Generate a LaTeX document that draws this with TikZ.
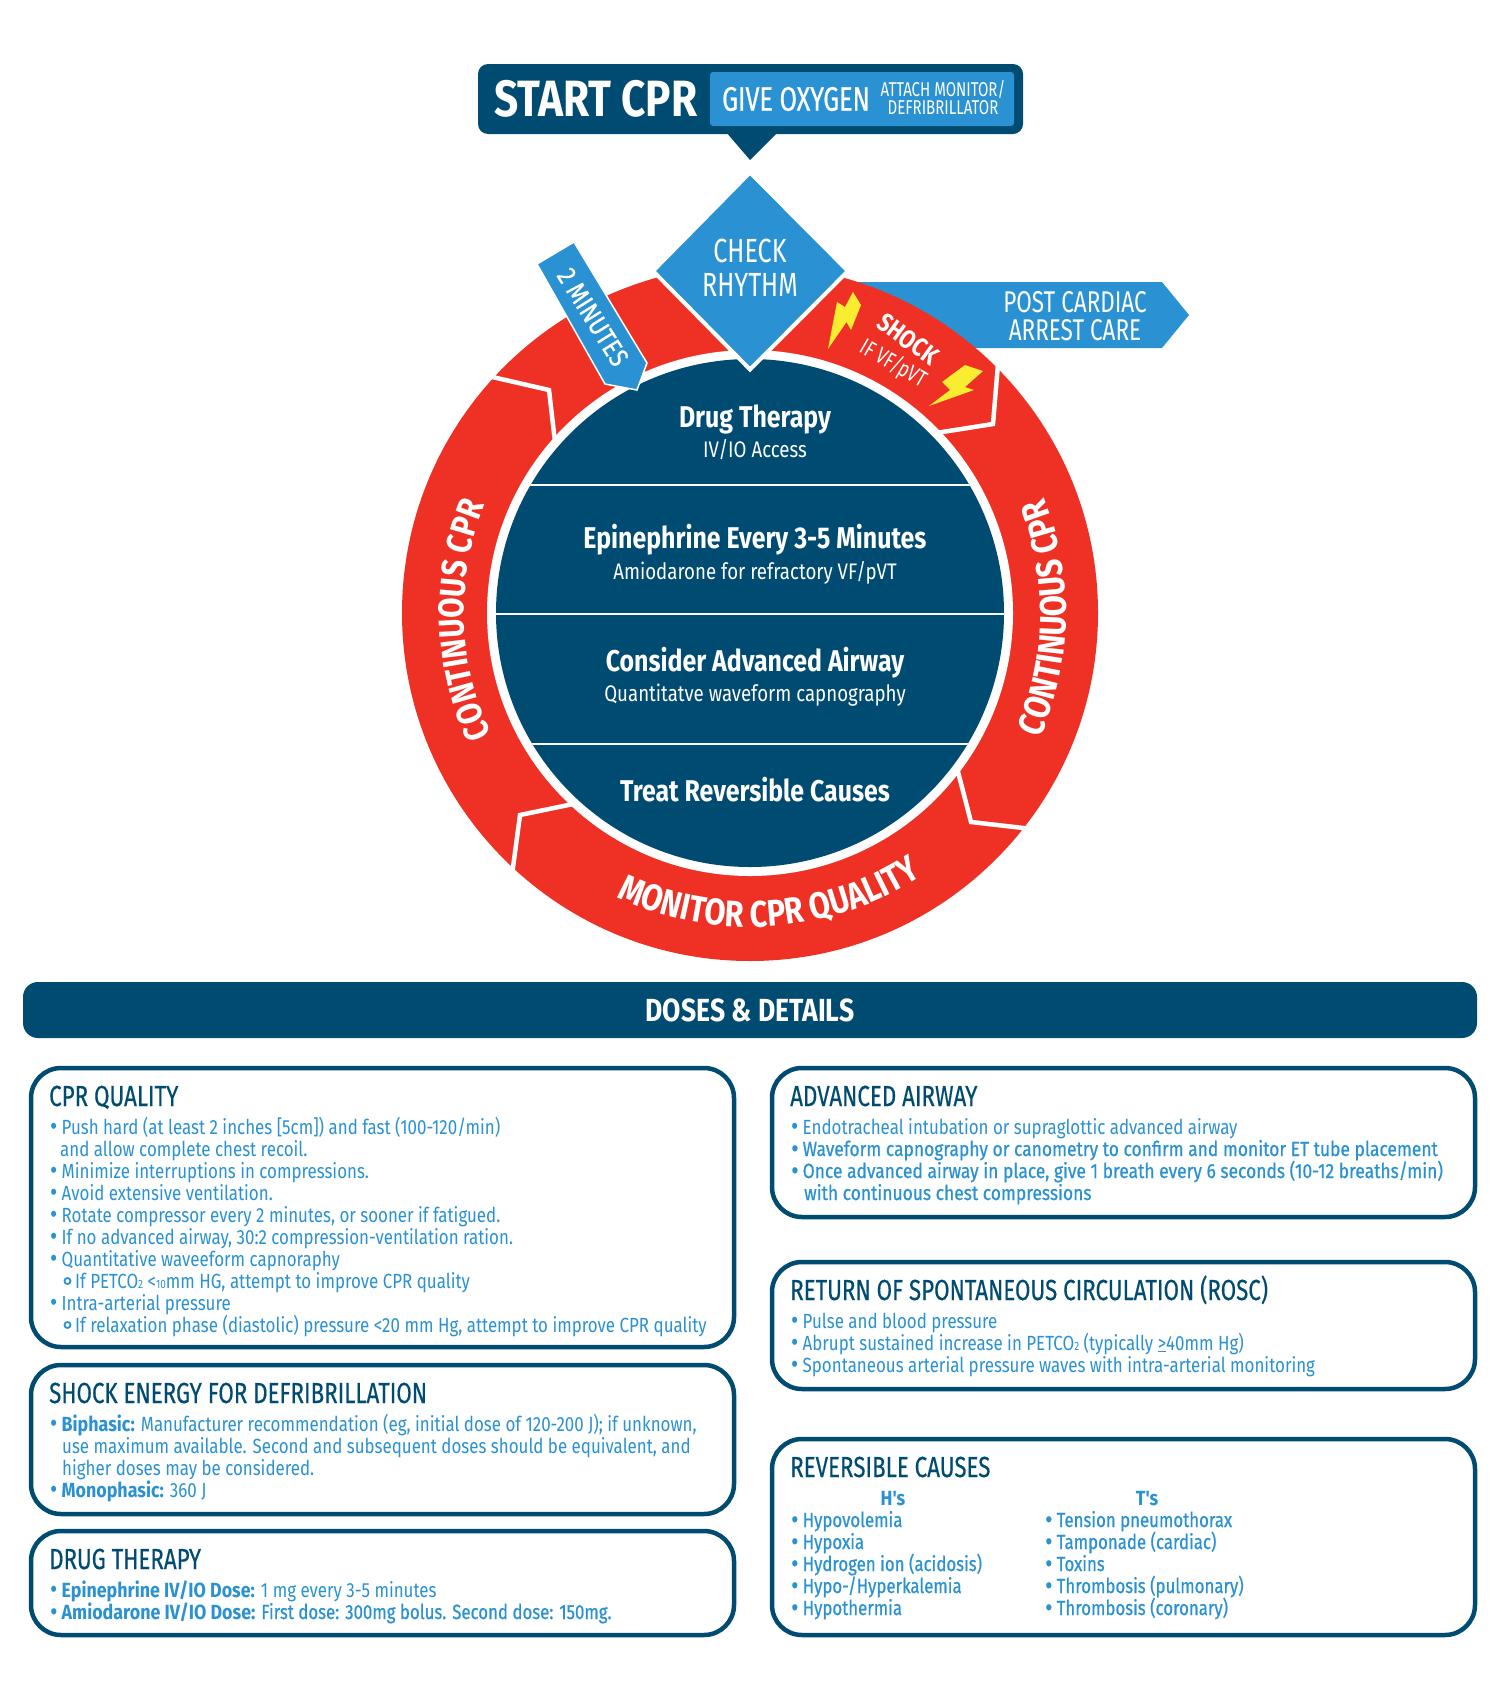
\documentclass[tikz,border=0pt]{standalone}
\usepackage{fontspec}
\usetikzlibrary{decorations.text}
\newfontfamily\din[FakeStretch=0.75]{Fira Sans}
\newfontfamily\dinw[FakeStretch=0.825,BoldFeatures={FakeStretch=0.87}]{Fira Sans}
\newfontfamily\dinm[FakeStretch=0.85,FakeBold=0.6]{Fira Sans}
\newfontfamily\dinl[FakeStretch=0.82,FakeBold=0.6]{Fira Sans}
\newfontfamily\dinh[FakeStretch=0.74,FakeBold=0.6]{Fira Sans}
\newfontfamily\dint[FakeStretch=0.77,FakeBold=0.4]{Fira Sans}
\newfontfamily\dinb[FakeStretch=0.83]{Fira Sans}
\definecolor{navy}{HTML}{004B71}
\definecolor{sky}{HTML}{2A92D2}
\definecolor{cprred}{HTML}{EE3124}
\definecolor{bolt}{HTML}{F9EC31}
\newcommand{\fsz}[1]{\fontsize{#1}{#1}\selectfont}
\newcommand{\bul}{\makebox[11.5pt][l]{\raisebox{-1.5pt}{\fsz{27}•}}}
\newcommand{\sml}[1]{{\fontsize{12}{12}\selectfont #1}}
\tikzset{
 x=1pt,y=1pt,
 ctext/.style={inner sep=0pt,align=center,text=white,font=\din},
 bodytxt/.style={inner sep=0pt,anchor=base west,text=sky,font=\dinw\fsz{20.5}},
 medtxt/.style={bodytxt,font=\dinm\fsz{20.5}},
 listtxt/.style={bodytxt,font=\dinl\fsz{20.5}},
 headtxt/.style={inner sep=0pt,anchor=base west,text=navy,font=\dint\fsz{29}},
 infobox/.style={draw=navy,line width=4.5pt,fill=white,rounded corners=30pt},
 divider/.style={draw=white,line width=4.5pt,line join=miter},
}
\newcommand{\tl}[5][bodytxt]{\node[#1] (#2) at (#3,-#4) {#5};}
\begin{document}
\begin{tikzpicture}
\useasboundingbox (0,0) rectangle (1500,-1700);
\fill[white] (0,0) rectangle (1500,-1700);
% post cardiac arrow behind ring
\fill[sky] (820,-282) -- (1162,-282) -- (1189,-315) -- (1162,-348) -- (820,-348) -- cycle;
% ring
\coordinate (ctr) at (750,-613);
\fill[cprred] (ctr) circle[radius=348];
\fill[white] (ctr) circle[radius=263];
\fill[navy] (ctr) circle[radius=254];
% disc separators
\begin{scope}
\clip (ctr) circle[radius=254];
\draw[white,line width=2pt] (480,-485) -- (1020,-485) (480,-614) -- (1020,-614) (480,-744) -- (1020,-744);
\end{scope}
% dividers
\draw[divider] (488,-376) -- (549,-390) -- (555,-442);
\draw[divider] (998,-364) -- (993,-424) -- (936,-433);
\draw[divider] (957,-768) -- (971,-822) -- (1032,-829);
\draw[divider] (578,-803) -- (520,-815) -- (512,-875);
% ring labels
\path[decorate,decoration={text along path,text align=center,
  text={|\dinb\bfseries\fsz{35.5}\color{white}|CONTINUOUS CPR}}]
  (ctr) ++(221.5:286) arc[start angle=221.5,end angle=141.5,radius=286];
\path[decorate,decoration={text along path,text align=center,
  text={|\dinb\bfseries\fsz{37}\color{white}|CONTINUOUS CPR}}]
  (ctr) ++(-41:316) arc[start angle=-41,end angle=39,radius=316];
\path[decorate,decoration={text along path,text align=center,
  text={|\dinb\bfseries\fsz{37}\color{white}|MONITOR CPR QUALITY}}]
  (ctr) ++(229:314) arc[start angle=229,end angle=319,radius=314];
% bolts
\fill[bolt] (853,-292) -- (861,-305) -- (851,-330) -- (846.5,-322) -- (828,-349) -- (837,-302) -- (845,-307) -- cycle;
\fill[bolt] (965,-365) -- (983,-371) -- (965,-387) -- (974,-390) -- (929,-406) -- (950,-390) -- (942,-382) -- cycle;
\node[ctext,font=\dinb\bfseries\fsz{26},rotate=-36] (shock) at (908,-339) {SHOCK};
\node[ctext,font=\din\fsz{23},rotate=-30] (ifvf) at (893,-364) {IF VF/pVT};
% 2 minutes tag
\draw[fill=sky,draw=white,line width=1.5pt,line join=miter] (574,-242) -- (647,-363) -- (637,-390) -- (605,-384) -- (537,-264) -- cycle;
\node[ctext,font=\dinm\fsz{27},rotate=-58] (twomin) at (593,-317) {2 MINUTES};
% diamond
\draw[fill=sky,draw=white,line width=4pt,line join=miter] (750,-172.5) -- (848,-271) -- (750,-369.5) -- (653,-271) -- cycle;
\node[ctext,font=\din\fsz{33.5}] (check) at (750,-251) {CHECK};
\node[ctext,font=\din\fsz{33.5}] (rhythm) at (750,-285) {RHYTHM};
\node[ctext,font=\din\fsz{30}] (post1) at (1075,-302) {POST CARDIAC};
\node[ctext,font=\din\fsz{30}] (post2) at (1075,-330) {ARREST CARE};
% header
\fill[navy,rounded corners=10pt] (478,-64) rectangle (1023,-134);
\fill[navy] (726,-132) -- (778,-132) -- (750,-160) -- cycle;
\fill[sky,rounded corners=3pt] (710,-72) rectangle (1014,-126);
\node[ctext,font=\dinb\bfseries\fsz{51}] (start) at (596,-99) {START CPR};
\node[ctext,font=\dinh\fsz{34}] (oxygen) at (796,-99) {GIVE OXYGEN};
\node[ctext,font=\din\fsz{20}] (attach1) at (943,-89) {ATTACH MONITOR/};
\node[ctext,font=\din\fsz{20}] (attach2) at (943,-108) {DEFRIBRILLATOR};
% disc text
\node[ctext,font=\dinb\bfseries\fsz{30}] (drug) at (755,-419) {Drug Therapy};
\node[ctext,font=\dinb\fsz{22.5}] (ivio) at (755,-450) {IV/IO Access};
\node[ctext,font=\dinb\bfseries\fsz{30}] (epi) at (755,-540) {Epinephrine Every 3-5 Minutes};
\node[ctext,font=\dinb\fsz{22.5}] (amio) at (755,-573) {Amiodarone for refractory VF/pVT};
\node[ctext,font=\dinb\bfseries\fsz{30}] (airway) at (755,-663) {Consider Advanced Airway};
\node[ctext,font=\dinb\fsz{22.5}] (quant) at (755,-695) {Quantitatve waveform capnography};
\node[ctext,font=\dinb\bfseries\fsz{30}] (treat) at (755,-790) {Treat Reversible Causes};
% banner
\fill[navy,rounded corners=15pt] (23,-982) rectangle (1477,-1038);
\node[ctext,font=\dinb\bfseries\fsz{32}] (doses) at (750,-1010) {DOSES \& DETAILS};
% boxes
\draw[infobox] (31,-1068) rectangle (734,-1347);
\draw[infobox] (31,-1365) rectangle (734,-1514);
\draw[infobox] (31,-1531) rectangle (734,-1635);
\draw[infobox] (772,-1068) rectangle (1475,-1217);
\draw[infobox] (772,-1262) rectangle (1475,-1389);
\draw[infobox] (772,-1439) rectangle (1475,-1635);
% CPR quality
\tl[headtxt]{h1}{49}{1106}{CPR QUALITY}
\tl{a1}{50}{1134}{\bul Push hard (at least 2 inches [5cm]) and fast (100-120/min)}
\tl{a2}{60}{1156}{and allow complete chest recoil.}
\tl{a3}{50}{1178}{\bul Minimize interruptions in compressions.}
\tl{a4}{50}{1200}{\bul Avoid extensive ventilation.}
\tl{a5}{50}{1222}{\bul Rotate compressor every 2 minutes, or sooner if fatigued.}
\tl{a6}{50}{1244}{\bul If no advanced airway, 30:2 compression-ventilation ration.}
\tl{a7}{50}{1266}{\bul Quantitative waveeform capnoraphy}
\tl{a8}{75}{1288}{If PETCO\sml{2} <\sml{10}mm HG, attempt to improve CPR quality}
\tl{a9}{50}{1310}{\bul Intra-arterial pressure}
\tl{a10}{75}{1332}{If relaxation phase (diastolic) pressure <20 mm Hg, attempt to improve CPR quality}
\draw[sky,line width=1.8pt] (67.5,-1281) circle[radius=3];
\draw[sky,line width=1.8pt] (67.5,-1325) circle[radius=3];
% Shock
\tl[headtxt]{h2}{49}{1403}{SHOCK ENERGY FOR DEFRIBRILLATION}
\tl{b1}{50}{1431}{\bul{\bfseries Biphasic:} Manufacturer recommendation (eg, initial dose of 120-200 J); if unknown,}
\tl{b2}{62}{1453}{use maximum available. Second and subsequent doses should be equivalent, and}
\tl{b3}{62}{1475}{higher doses may be considered.}
\tl{b4}{50}{1497}{\bul{\bfseries Monophasic:} 360 J}
% Drug
\tl[headtxt]{h3}{49}{1569}{DRUG THERAPY}
\tl{c1}{50}{1597}{\bul{\bfseries Epinephrine IV/IO Dose:} 1 mg every 3-5 minutes}
\tl[listtxt]{c2}{50}{1619}{\bul{\dinw\bfseries Amiodarone IV/IO Dose:} First dose: 300mg bolus. Second dose: 150mg.}
% Airway
\tl[headtxt]{h4}{790}{1106}{ADVANCED AIRWAY}
\tl{d1}{791}{1134}{\bul Endotracheal intubation or supraglottic advanced airway}
\tl[medtxt]{d2}{791}{1156}{\bul Waveform capnography or canometry to confirm and monitor ET tube placement}
\tl[medtxt]{d3}{791}{1178}{\bul Once advanced airway in place, give 1 breath every 6 seconds (10-12 breaths/min)}
\tl[medtxt]{d4}{804}{1200}{with continuous chest compressions}
% ROSC
\tl[headtxt]{h5}{790}{1300}{RETURN OF SPONTANEOUS CIRCULATION (ROSC)}
\tl{e1}{791}{1328}{\bul Pulse and blood pressure}
\tl{e2}{791}{1350}{\bul Abrupt sustained increase in PETCO\sml{2} (typically \underline{>}40mm Hg)}
\tl{e3}{791}{1372}{\bul Spontaneous arterial pressure waves with intra-arterial monitoring}
% Reversible
\tl[headtxt]{h6}{790}{1477}{REVERSIBLE CAUSES}
\node[bodytxt,anchor=base] (hs) at (893,-1505) {\bfseries H's};
\node[bodytxt,anchor=base] (ts) at (1147,-1505) {\bfseries T's};
\tl[listtxt]{f1}{791}{1527}{\bul Hypovolemia}
\tl[listtxt]{f2}{791}{1549}{\bul Hypoxia}
\tl[listtxt]{f3}{791}{1571}{\bul Hydrogen ion (acidosis)}
\tl[listtxt]{f4}{791}{1593}{\bul Hypo-/Hyperkalemia}
\tl[listtxt]{f5}{791}{1615}{\bul Hypothermia}
\tl[listtxt]{g1}{1045}{1527}{\bul Tension pneumothorax}
\tl[listtxt]{g2}{1045}{1549}{\bul Tamponade (cardiac)}
\tl[listtxt]{g3}{1045}{1571}{\bul Toxins}
\tl[listtxt]{g4}{1045}{1593}{\bul Thrombosis (pulmonary)}
\tl[listtxt]{g5}{1045}{1615}{\bul Thrombosis (coronary)}
\end{tikzpicture}
\end{document}
